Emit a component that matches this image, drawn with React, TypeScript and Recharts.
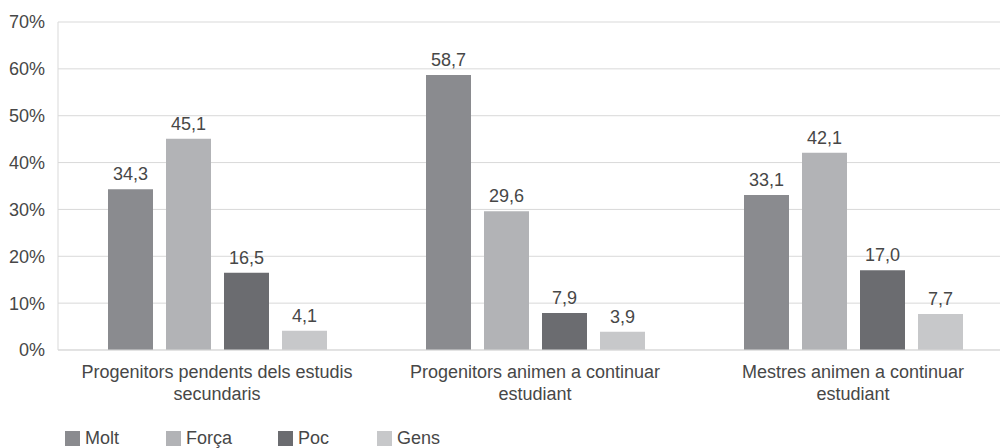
import { BarChart, Bar, XAxis, YAxis, CartesianGrid, Legend, LabelList } from "recharts"

// categories (line breaks as in the original)
const categories = [
  "Progenitors pendents dels estudis\nsecundaris",
  "Progenitors animen a continuar\nestudiant",
  "Mestres animen a continuar\nestudiant",
]

const molt = [34.3, 58.7, 33.1]
const forca = [45.1, 29.6, 42.1]
const poc = [16.5, 7.9, 17.0]
const gens = [4.1, 3.9, 7.7]

const yTicks = [0, 10, 20, 30, 40, 50, 60, 70]

const series = [
  { key: "molt", name: "Molt", color: "#8a8b8f" },
  { key: "forca", name: "Força", color: "#b2b3b6" },
  { key: "poc", name: "Poc", color: "#6b6c70" },
  { key: "gens", name: "Gens", color: "#c7c8ca" },
]

const data = categories.map((name, i) => ({
  name,
  molt: molt[i],
  forca: forca[i],
  poc: poc[i],
  gens: gens[i],
}))

const font = "'Liberation Sans', Arial, sans-serif"
const textColor = "#474747"
const gridColor = "#d9d9d9"
const fs = 18

const fmt = (v: any) => Number(v).toFixed(1).replace(".", ",")

function CategoryTick(props: any) {
  const { x, y, payload } = props
  const lines = String(payload.value).split("\n")
  return (
    <text x={x} y={y} textAnchor="middle" fill={textColor} fontSize={fs} fontFamily={font}>
      {lines.map((l, i) => (
        <tspan key={i} x={x} dy={i === 0 ? 20 : 22}>
          {l}
        </tspan>
      ))}
    </text>
  )
}

// legend item widths, to space them like the original
const legendWidths = [101, 112, 99, 100]

function LegendContent() {
  return (
    <div style={{ display: "flex", alignItems: "center", height: 20, paddingLeft: 65, fontFamily: font }}>
      {series.map((s, i) => (
        <div key={s.key} style={{ display: "flex", alignItems: "center", width: legendWidths[i] }}>
          <span style={{ display: "inline-block", width: 15, height: 15, background: s.color, marginRight: 5 }} />
          <span style={{ fontSize: fs, color: textColor, lineHeight: "20px" }}>{s.name}</span>
        </div>
      ))}
    </div>
  )
}

export default function App() {
  return (
    <div style={{ position: "absolute", left: 0, top: 0, width: 1000, height: 448, overflow: "hidden", background: "#fff" }}>
      <BarChart
        width={1012}
        height={448}
        data={data}
        margin={{ top: 22, right: 0, left: 0, bottom: 0 }}
        barSize={45}
        barGap={13}
      >
        <CartesianGrid vertical={false} stroke={gridColor} />
        <XAxis
          dataKey="name"
          height={78}
          tick={<CategoryTick />}
          tickLine={false}
          axisLine={{ stroke: gridColor }}
          interval={0}
        />
        <YAxis
          width={58}
          domain={[0, 70]}
          ticks={yTicks}
          tickFormatter={(v) => `${v}%`}
          tickLine={false}
          tickMargin={7}
          axisLine={{ stroke: gridColor }}
          tick={{ fill: textColor, fontSize: fs, fontFamily: font }}
        />
        <Legend verticalAlign="bottom" height={20} content={<LegendContent />} />
        {series.map((s) => (
          <Bar key={s.key} dataKey={s.key} name={s.name} fill={s.color} isAnimationActive={false}>
            <LabelList
              dataKey={s.key}
              position="top"
              offset={9}
              formatter={fmt}
              fill={textColor}
              fontSize={fs}
              fontFamily={font}
            />
          </Bar>
        ))}
      </BarChart>
    </div>
  )
}
